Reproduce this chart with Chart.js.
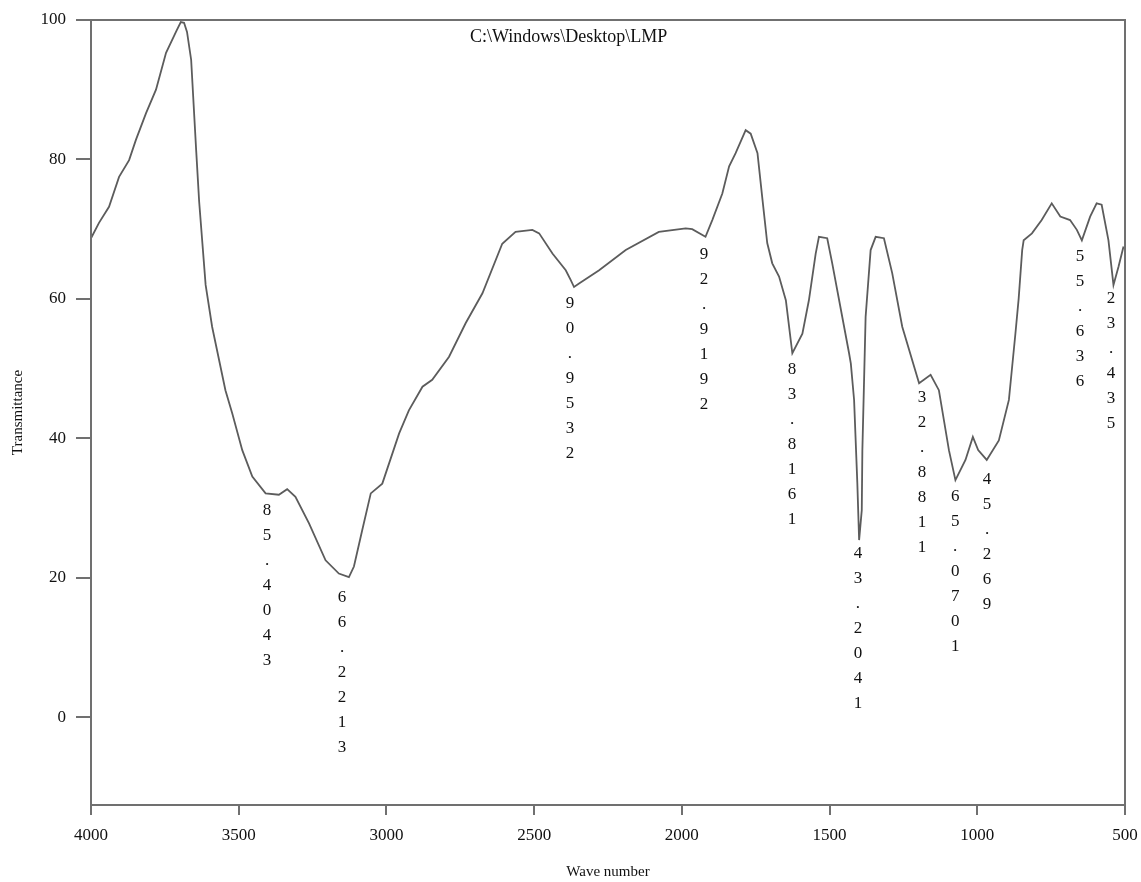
<!DOCTYPE html>
<html>
<head>
<meta charset="utf-8">
<script src="https://cdn.jsdelivr.net/npm/chart.js@4.4.1/dist/chart.umd.min.js"></script>
<style>
  html, body { margin:0; padding:0; background:#fff; }
  #wrap { width:1141px; height:882px; }
</style>
</head>
<body>
<div id="wrap"><canvas id="irChart"></canvas></div>
<script>
// spectrum (wave number, % transmittance)
const waveNumbers = [
  4000,3973,3939,3905,3871,3848,3814,3780,3746,3710,3696,3685,3675,3661,3644,3634,3612,3590,3545,3522,
  3488,3454,3409,3364,3336,3308,3262,3206,3161,3127,3110,3082,3053,3014,2957,2924,2878,2845,2788,2732,
  2675,2608,2563,2506,2483,2438,2393,2376,2365,2348,2280,2190,2078,1987,1965,1920,1897,1863,1840,1818,
  1784,1767,1744,1727,1711,1694,1671,1648,1626,1592,1570,1547,1536,1508,1491,1457,1434,1428,1417,1406,
  1400,1391,1389,1378,1361,1344,1316,1288,1254,1197,1158,1130,1096,1074,1040,1015,997,968,927,893,
  871,860,848,843,815,782,748,719,686,663,646,618,596,579,556,539,522,505
];
const transmittance = [
  68.7,70.9,73.2,77.5,79.9,82.8,86.6,90.0,95.3,98.5,99.7,99.6,98.3,94.3,81.3,74.0,62.0,56.0,46.9,43.6,
  38.3,34.5,32.1,31.9,32.7,31.6,27.8,22.5,20.6,20.1,21.6,26.8,32.1,33.5,40.7,44.0,47.4,48.4,51.7,56.5,
  60.8,67.9,69.6,69.9,69.4,66.5,64.1,62.7,61.7,62.2,64.1,67.0,69.6,70.1,70.0,68.9,71.3,75.1,79.0,80.9,
  84.2,83.7,80.9,74.2,68.0,65.1,63.2,59.8,52.2,55.0,59.8,66.5,68.9,68.7,65.1,57.4,52.2,50.7,45.5,33.5,
  25.4,29.7,38.3,57.4,67.0,68.9,68.7,63.7,56.0,47.9,49.1,46.9,38.3,34.0,36.9,40.2,38.3,36.9,39.7,45.5,
  55.0,60.0,67.0,68.4,69.4,71.3,73.7,71.8,71.3,69.9,68.4,71.8,73.7,73.5,68.4,62.0,64.6,67.5
];

const xTicks = [4000,3500,3000,2500,2000,1500,1000,500];
const yTicks = [0,20,40,60,80,100];

// peak annotations, printed one character per line
const peakText = ["85.4043","66.2213","90.9532","92.9192","83.8161","43.2041","32.8811","65.0701","45.269","55.636","23.435"];
const peakWave = [3404,3150,2379,1925,1627,1404,1187,1075,967,652,547];
const peakTop  = [29.6,17.1,59.4,66.4,49.8,23.5,45.8,31.6,34.1,66.1,60.0];

const fileLabel = "C:\\Windows\\Desktop\\LMP";

const serif = "'Liberation Serif', 'Times New Roman', serif";
Chart.defaults.font.family = serif;
Chart.defaults.color = "#111";

const frameAndNotes = {
  id: "frameAndNotes",
  afterDraw(chart){
    const {ctx, chartArea:a, scales:{x, y}} = chart;
    ctx.save();
    ctx.strokeStyle = "#707070";
    ctx.lineWidth = 2;
    ctx.strokeRect(a.left, a.top, a.right - a.left, a.bottom - a.top);

    ctx.fillStyle = "#111";
    ctx.font = "18px " + serif;
    ctx.textAlign = "center";
    ctx.textBaseline = "middle";
    ctx.fillText(fileLabel, a.left + (a.right - a.left) * 0.462, a.top + 17);

    ctx.font = "17px " + serif;
    peakText.forEach((txt, i) => {
      const px = x.getPixelForValue(peakWave[i]);
      const py = y.getPixelForValue(peakTop[i]);
      [...txt].forEach((ch, k) => ctx.fillText(ch, px, py + k * 25));
    });
    ctx.restore();
  }
};

new Chart(document.getElementById("irChart"), {
  type: "scatter",
  data: {
    datasets: [{
      data: waveNumbers.map((w, i) => ({x: w, y: transmittance[i]})),
      showLine: true,
      borderColor: "#5c5c5c",
      borderWidth: 1.8,
      pointRadius: 0,
      tension: 0
    }]
  },
  options: {
    responsive: true,
    maintainAspectRatio: false,
    animation: false,
    layout: { padding: { top: 20, right: 16, left: 0, bottom: 0 } },
    plugins: { legend: { display: false }, tooltip: { enabled: false } },
    scales: {
      x: {
        type: "linear",
        reverse: true,
        min: 500,
        max: 4000,
        afterBuildTicks: s => { s.ticks = xTicks.map(v => ({value: v})); },
        afterFit: s => { s.height = 77; s.paddingLeft = 0; s.paddingRight = 0; },
        ticks: { font: { size: 17 }, padding: 10, maxRotation: 0, autoSkip: false, callback: v => String(v) },
        grid: { drawOnChartArea: false, tickLength: 10, color: "#707070", lineWidth: 2 },
        border: { display: false },
        title: { display: true, text: "Wave number", font: { size: 15 }, padding: { top: 0, bottom: 1 } }
      },
      y: {
        min: -12.6,
        max: 100,
        afterBuildTicks: s => { s.ticks = yTicks.map(v => ({value: v})); },
        afterFit: s => { s.width = 91; s.paddingTop = 0; s.paddingBottom = 0; },
        ticks: { font: { size: 17 }, padding: 10, callback: v => String(v) },
        grid: { drawOnChartArea: false, tickLength: 15, color: "#707070", lineWidth: 2 },
        border: { display: false },
        title: { display: true, text: "Transmittance", font: { size: 15 }, padding: { top: 9, bottom: 0 } }
      }
    }
  },
  plugins: [frameAndNotes]
});
</script>
</body>
</html>
